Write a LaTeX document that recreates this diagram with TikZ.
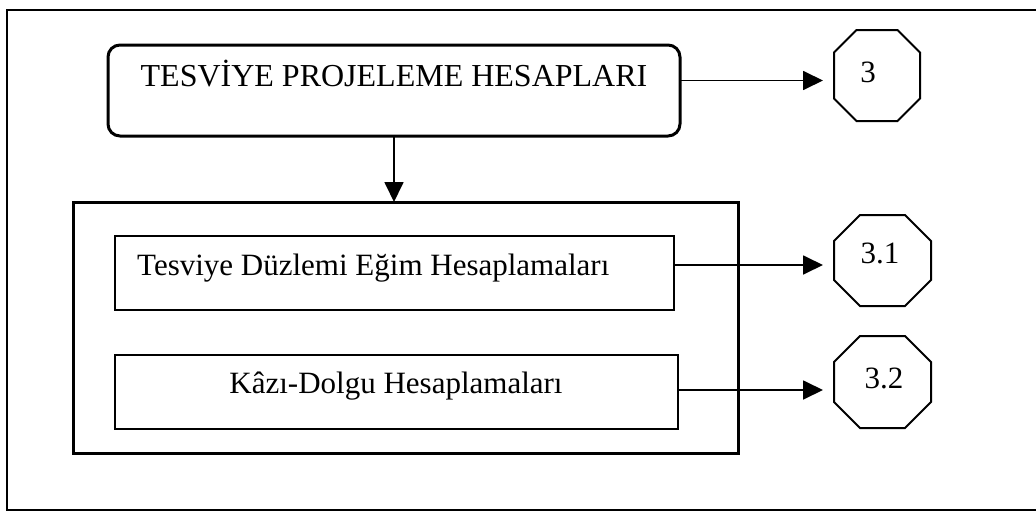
\documentclass[tikz,border=0pt]{standalone}
\usepackage{fontspec}
\setmainfont{Liberation Serif}
\usetikzlibrary{arrows.meta,calc}
\newcommand{\drawoct}[2]{%
  \draw[octline] ($(#1.north west)+(#2,0)$) -- ($(#1.north east)+(-#2,0)$)
    -- ($(#1.north east)+(0,#2)$) -- ($(#1.south east)+(0,-#2)$)
    -- ($(#1.south east)+(-#2,0)$) -- ($(#1.south west)+(#2,0)$)
    -- ($(#1.south west)+(0,-#2)$) -- ($(#1.north west)+(0,#2)$) -- cycle;}
\tikzset{
  txt/.style={inner sep=0pt, font=\fontsize{31pt}{37pt}\selectfont},
  bigtxt/.style={inner sep=0pt, font=\fontsize{32pt}{38pt}\selectfont},
  boxbase/.style={draw=black, inner sep=0pt, outer sep=0pt},
  thickbox/.style={boxbase, line width=3pt},
  thinbox/.style={boxbase, line width=1.8pt},
  inv/.style={draw=none, inner sep=0pt, outer sep=0pt},
  octline/.style={line width=2pt, line join=miter},
  arr/.style={line width=1.8pt, -{Triangle[length=20pt,width=19pt]}},
  frameline/.style={line width=2.8pt}
}
\begin{document}
\begin{tikzpicture}[x=1pt,y=-1pt]
\useasboundingbox (0,0) rectangle (1036,514);
\fill[white] (0,0) rectangle (1036,514);
% outer frame (right side beyond the picture)
\draw[frameline] (1045,10) -- (7,10) -- (7,510) -- (1045,510);
% boxes
\node[thickbox, rounded corners=12pt, minimum width=572pt, minimum height=91pt] (top) at (394,90.5) {};
\node[thickbox, minimum width=665pt, minimum height=251pt] (inner) at (405.5,327.5) {};
\node[thinbox, minimum width=559pt, minimum height=74pt] (b1) at (394.5,273) {};
\node[thinbox, minimum width=563pt, minimum height=74pt] (b2) at (396.5,392) {};
% texts
\node[bigtxt, anchor=base] (ttop) at (394,86) {TESVİYE PROJELEME HESAPLARI};
\node[txt, anchor=base west] (tb1) at (137,275) {Tesviye Düzlemi Eğim Hesaplamaları};
\node[txt, anchor=base] (tb2) at (396,393) {Kâzı-Dolgu Hesaplamaları};
% octagons
\node[inv, minimum width=86pt, minimum height=91pt] (o3) at (877,75.5) {};
\node[inv, minimum width=97pt, minimum height=91pt] (o31) at (882.5,260.5) {};
\node[inv, minimum width=97pt, minimum height=92pt] (o32) at (882.5,382) {};
\drawoct{o3}{22.5}
\drawoct{o31}{26}
\drawoct{o32}{26}
\node[txt, anchor=base] (n3) at (868,82) {3};
\node[txt, anchor=base] (n31) at (880,263) {3.1};
\node[txt, anchor=base] (n32) at (884,388) {3.2};
% connectors
\draw[arr, shorten >=11pt] ([yshift=10pt]top.east) -- ([yshift=10pt]top.east -| o3.west);
\draw[arr] (top.south) -- (top.south |- inner.north);
\draw[arr, shorten >=11pt] ([yshift=8pt]b1.east) -- ([yshift=8pt]b1.east -| o31.west);
\draw[arr, shorten >=11pt] ([yshift=2pt]b2.east) -- ([yshift=2pt]b2.east -| o32.west);
\end{tikzpicture}
\end{document}
